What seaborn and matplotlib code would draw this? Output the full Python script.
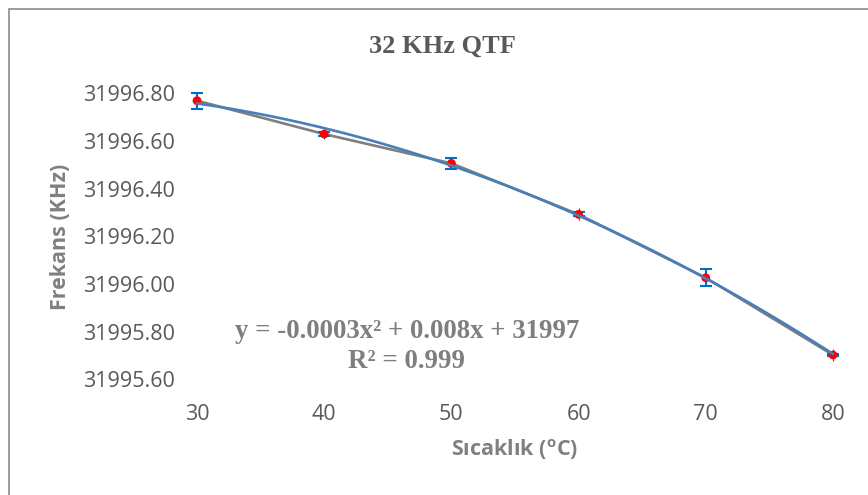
import matplotlib
matplotlib.use("Agg")
import matplotlib.pyplot as plt
import matplotlib.patches as mpatches
import seaborn as sns
import pandas as pd

# ---- data ----
temperature = [30, 40, 50, 60, 70, 80]
frequency = [31996.769, 31996.629, 31996.506, 31996.292, 31996.026, 31995.702]
err_blue = [0.034, 0.008, 0.023, 0.008, 0.036, 0.006]
err_grey = [0.02, 0.02, 0.02, 0.025, 0.02, 0.026]
y_ticks = [31995.60, 31995.80, 31996.00, 31996.20, 31996.40, 31996.60, 31996.80]
x_ticks = [30, 40, 50, 60, 70, 80]
title = "32 KHz QTF"
equation = "y = -0.0003x² + 0.008x + 31997"
r2_text = "R² = 0.999"
xlabel = "Sıcaklık ($^{\\mathbf{o}}$C)"
ylabel = "Frekans (KHz)"

df = pd.DataFrame({"T": temperature, "F": frequency})

sns.set_theme(style="white")
plt.rcParams["font.family"] = ["Open Sans", "DejaVu Sans"]
plt.rcParams["mathtext.fontset"] = "custom"
plt.rcParams["mathtext.rm"] = "Open Sans"
plt.rcParams["mathtext.bf"] = "Open Sans:bold"

fig = plt.figure(figsize=(8.68, 4.95), dpi=100)
ax = fig.add_axes([197 / 868, 1 - 379.3 / 495, (833 - 197) / 868, (379.3 - 93.3) / 495])

# outer border
fig.patches.append(mpatches.Rectangle((9 / 868, -0.1), 1.2, 1 - 9 / 495 + 0.1,
                                      transform=fig.transFigure, fill=False,
                                      edgecolor="#8c8c8c", linewidth=1.2))

# grey connecting line
sns.lineplot(data=df, x="T", y="F", ax=ax, color="#7f7f7f", linewidth=1.9,
             zorder=2, clip_on=False, legend=False)
# grey error bars
ax.errorbar(temperature, frequency, yerr=err_grey, fmt="none", ecolor="#555555",
            elinewidth=0.8, capsize=0, zorder=2.5, clip_on=False)
# blue error bars
ax.errorbar(temperature, frequency, yerr=err_blue, fmt="none", ecolor="#0070C0",
            elinewidth=1.5, capsize=4.5, capthick=1.5, zorder=3, clip_on=False)
# red points
sns.scatterplot(data=df, x="T", y="F", ax=ax, color="#ff0000", s=40,
                edgecolor="none", zorder=4, clip_on=False, legend=False)
# polynomial trend line
sns.regplot(data=df, x="T", y="F", ax=ax, order=2, ci=None, scatter=False,
            truncate=True, line_kws={"color": "#4a7ebb", "linewidth": 1.9,
                                     "zorder": 5, "clip_on": False})

ax.set_xlim(30, 80)
ax.set_ylim(31995.60, 31996.80)
ax.set_xticks(x_ticks)
ax.set_yticks(y_ticks)
ax.set_xticklabels([str(t) for t in x_ticks])
ax.set_yticklabels([f"{v:.2f}" for v in y_ticks])
ax.tick_params(axis="both", length=0, labelsize=15.5, colors="#595959")
ax.tick_params(axis="x", pad=17.5)
ax.tick_params(axis="y", pad=16)
for s in ax.spines.values():
    s.set_visible(False)
ax.grid(False)
ax.set_xlabel("")
ax.set_ylabel("")

fig.text(515 / 868, 1 - 450 / 495, xlabel, ha="center", va="center",
         fontsize=15.5, fontweight="bold", color="#808080")
fig.text(60 / 868, 1 - 237 / 495, ylabel, ha="center", va="center", rotation=90,
         fontsize=15.5, fontweight="bold", color="#808080")

fig.text(442 / 868, 1 - 46 / 495, title, ha="center", va="center",
         fontsize=19, fontweight="bold", color="#595959",
         family=["Liberation Serif", "DejaVu Serif"])
fig.text(407 / 868, 1 - 331 / 495, equation, ha="center", va="center",
         fontsize=19.4, fontweight="bold", color="#7f7f7f",
         family=["Liberation Serif", "DejaVu Serif"])
fig.text(407 / 868, 1 - 361 / 495, r2_text, ha="center", va="center",
         fontsize=19.4, fontweight="bold", color="#7f7f7f",
         family=["Liberation Serif", "DejaVu Serif"])

fig.savefig("out.png", dpi=100, facecolor="white")
